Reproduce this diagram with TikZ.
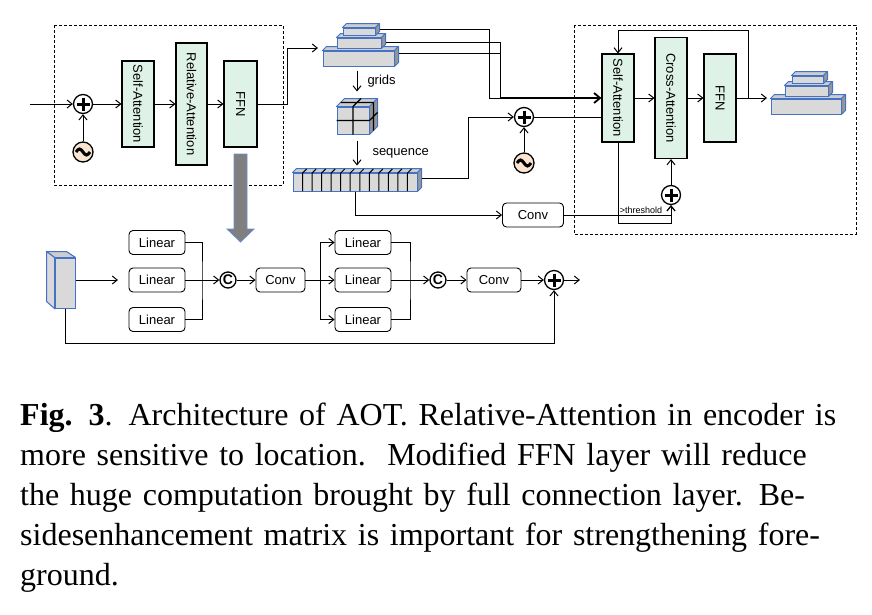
\documentclass[tikz,border=0pt]{standalone}
\usepackage{fontspec}
\usepackage{graphicx}
\setmainfont{Liberation Serif}
\setsansfont{Liberation Sans}
\usetikzlibrary{arrows.meta,calc}

\definecolor{mint}{RGB}{222,242,232}
\definecolor{peach}{RGB}{251,229,208}
\definecolor{barblue}{RGB}{68,114,196}
\definecolor{barfront}{RGB}{217,217,217}
\definecolor{bartopc}{RGB}{205,205,205}
\definecolor{barsidec}{RGB}{150,150,150}
\definecolor{arrowgray}{RGB}{127,127,127}

\tikzset{
  arr/.style={-{Straight Barb[length=5pt,width=8pt]}, line width=1pt},
  thickarr/.style={-{Straight Barb[length=6pt,width=10pt]}, line width=1.8pt},
  dbox/.style={line width=0.9pt, dash pattern=on 3pt off 2pt},
  attn/.style={draw, fill=mint, line width=1.1pt, inner sep=0pt, font=\sffamily\fontsize{13}{15}\selectfont},
  rbox/.style={draw, rounded corners=4pt, line width=0.9pt, minimum height=24pt, inner sep=0pt, font=\sffamily\fontsize{13}{15}\selectfont},
  lbl/.style={inner sep=0pt, font=\sffamily\fontsize{13}{15}\selectfont},
  thr/.style={inner sep=1pt, font=\sffamily\fontsize{9}{10}\selectfont},
  bar/.style={draw=barblue, fill=barfront, line width=1pt, inner sep=0pt},
  bartop/.style={draw=barblue, fill=bartopc, line width=1pt, line join=round},
  barside/.style={draw=barblue, fill=barsidec, line width=1pt, line join=round},
  plusop/.style={circle, draw, line width=1.3pt, minimum size=19pt, inner sep=0pt,
    path picture={\draw[line width=3pt]
      ($(path picture bounding box.center)+(-6.5,0)$) -- ($(path picture bounding box.center)+(6.5,0)$)
      ($(path picture bounding box.center)+(0,-6.5)$) -- ($(path picture bounding box.center)+(0,6.5)$);}},
  sinop/.style={circle, draw, fill=peach, line width=1.3pt, minimum size=20pt, inner sep=0pt,
    path picture={\draw[line width=3pt]
      ($(path picture bounding box.center)+(-7,0)$) sin ++(3.5,-3) cos ++(3.5,3) sin ++(3.5,3) cos ++(3.5,-3);}},
  catop/.style={circle, draw, line width=1.3pt, minimum size=16pt, inner sep=0pt, font=\sffamily\bfseries\fontsize{14}{14}\selectfont}
}

% top and right faces of a grey block
\newcommand{\barfaces}[3]{%
  \filldraw[bartop] (#1.north west) -- ++(#2,-#3) -- ($(#1.north east)+(#2,-#3)$) -- (#1.north east) -- cycle;
  \filldraw[barside] (#1.north east) -- ++(#2,-#3) -- ($(#1.south east)+(#2,-#3)$) -- (#1.south east) -- cycle;
}

\begin{document}
\begin{tikzpicture}[x=1pt,y=-1pt]
        \useasboundingbox (0,0) rectangle (872,614);

        % encoder
        \draw[dbox] (54,25) rectangle (283,185);
        \coordinate (in1) at (30,104);
        \node[plusop] at (83,104)  (plus1) {};
        \node[sinop]  at (83,152)  (sin1) {};
        \node[attn, minimum width=32pt, minimum height=86pt]  at (138,104)   (sa1)  {\rotatebox{-90}{Self-Attention}};
        \node[attn, minimum width=31pt, minimum height=122pt] at (191.5,104) (ra1)  {\rotatebox{-90}{Relative-Attention}};
        \node[attn, minimum width=33pt, minimum height=86pt]  at (240.5,104) (ffn1) {\rotatebox{-90}{FFN}};

        % big grey arrow
        \filldraw[fill=arrowgray, draw=barblue!80, line width=0.8pt]
          (234,154) -- (247,154) -- (247,229) -- (254,229) -- (240.5,242) -- (227,229) -- (234,229) -- cycle;

        % feature pyramid
        \node[bar, minimum width=71pt, minimum height=15pt] at (358.5,58.5) (pb1) {};
        \barfaces{pb1}{4}{4}
        \node[bar, minimum width=44pt, minimum height=10pt] at (359,43) (pm1) {};
        \barfaces{pm1}{4}{4}
        \node[bar, minimum width=32pt, minimum height=7pt] at (359,31.5) (pt1) {};
        \barfaces{pt1}{4}{4}
        \coordinate (p1in) at (318,48);

        % grid cube
        \node[bar, minimum width=32pt, minimum height=27pt] at (353,120.5) (cube) {};
        \barfaces{cube}{8}{8}
        \draw[line width=1.3pt] (cube.north) -- (cube.south) (cube.west) -- (cube.east)
          (cube.north) -- ++(8,-8) (cube.east) -- ++(8,-8)
          ($(cube.north west)+(4,-4)$) -- ($(cube.north east)+(4,-4)$)
          ($(cube.north east)+(4,-4)$) -- ($(cube.south east)+(4,-4)$);

        % sequence
        \node[bar, minimum width=124pt, minimum height=18pt] at (355,182) (seq) {};
        \barfaces{seq}{4}{4}
        \foreach \i in {1,...,12}
          \draw[line width=1pt] (293+9.54*\i,191) -- (293+9.54*\i,173) -- ++(4,-4);

        % decoder
        \draw[dbox] (574,25) rectangle (856,234);
        \node[attn, minimum width=32pt, minimum height=88pt]  at (618,98) (sa2)  {\rotatebox{-90}{Self-Attention}};
        \node[attn, minimum width=32pt, minimum height=121pt] at (671,98) (ca2)  {\rotatebox{-90}{Cross-Attention}};
        \node[attn, minimum width=32pt, minimum height=88pt]  at (720,98) (ffn2) {\rotatebox{-90}{FFN}};
        \node[plusop] at (524,117) (plus2) {};
        \node[sinop]  at (524,163) (sin2) {};
        \node[plusop] at (671,195) (plus3) {};
        \node[rbox, minimum width=61pt] at (533,215) (conv1) {Conv};
        \coordinate (j1) at (489,98);
        \coordinate (j2) at (500,98);
        \coordinate (fb) at (748,98);
        \coordinate (out2) at (767,98);

        % output pyramid
        \node[bar, minimum width=70pt, minimum height=15pt] at (806,106.5) (pb2) {};
        \barfaces{pb2}{4}{4}
        \node[bar, minimum width=43pt, minimum height=10pt] at (806.5,91) (pm2) {};
        \barfaces{pm2}{4}{4}
        \node[bar, minimum width=31pt, minimum height=7pt] at (807.5,79.5) (pt2) {};
        \barfaces{pt2}{4}{4}

        % modified FFN
        \node[bar, minimum width=20pt, minimum height=50pt] at (65,283) (mem) {};
        \filldraw[bartop] (mem.north west) -- ++(-8,-6) -- ++(20,0) -- (mem.north east) -- cycle;
        \filldraw[bar] (mem.north west) -- ++(-8,-6) -- ++(0,50) -- (mem.south west) -- cycle;
        \coordinate (lin) at (118,280);
        \node[rbox, minimum width=56pt] at (157,242.5) (l1a) {Linear};
        \node[rbox, minimum width=56pt] at (157,280)   (l1b) {Linear};
        \node[rbox, minimum width=56pt] at (157,319.5) (l1c) {Linear};
        \coordinate (m1) at (202,280);
        \node[catop] at (228,280) (cat1) {C};
        \node[rbox, minimum width=49pt] at (280.5,280) (conv2) {Conv};
        \coordinate (s1) at (320,280);
        \node[rbox, minimum width=56pt] at (363,242.5) (l2a) {Linear};
        \node[rbox, minimum width=56pt] at (363,280)   (l2b) {Linear};
        \node[rbox, minimum width=56pt] at (363,319.5) (l2c) {Linear};
        \coordinate (m2) at (410,280);
        \node[catop] at (438,280) (cat2) {C};
        \node[rbox, minimum width=54pt] at (494,280) (conv3) {Conv};
        \node[plusop] at (554,280) (plus4) {};
        \coordinate (out3) at (580,280);

        % draw edges
        \draw[arr] (in1) -- (plus1);
        \draw[arr] (sin1) -- (plus1);
        \draw[arr] (plus1) -- (sa1);
        \draw[arr] (sa1) -- (ra1);
        \draw[arr] (ra1) -- (ffn1);
        \draw[arr] (ffn1.east) -- ++(30,0) |- (p1in);

        \draw ($(pt1.east)+(4,-2)$) -| (j1);
        \draw ($(pm1.east)+(4,-1)$) -| (j2);
        \draw ($(pb1.east)+(4,-5.5)$) -| (j2);
        \draw (j1) -- (j2);
        \draw[thickarr] (j2) -- (sa2.west);

        \draw[arr] ($(pb1.south)+(-1.5,4)$) -- ($(cube.north)+(4,-15)$) node[midway, right=10pt, lbl] {grids};
        \draw[arr] ($(cube.south)+(4,6)$) -- ($(seq.north)+(2,-7)$) node[midway, right=15pt, lbl] {sequence};
        \draw[arr] ($(seq.east)+(4,-4)$) -- ++(47,0) |- (plus2);
        \draw[arr] (sin2) -- (plus2);
        \draw (plus2) -- (sa2.west |- plus2);
        \draw[arr] (seq.south) |- (conv1.west);
        \draw[arr] (conv1.east) -| (plus3) node[pos=0.36, above, thr] {>threshold};
        \draw[arr] (sa2.south) -- ++(0,81) -| (plus3);
        \draw[arr] (plus3) -- (ca2.south);
        \draw[arr] (sa2) -- (ca2);
        \draw[arr] (ca2) -- (ffn2);
        \draw (ffn2.east) -- (fb);
        \draw[arr] (fb) -- (out2);
        \draw[arr] (fb) -- ++(0,-68) -| (sa2.north);

        \draw[arr] (mem.east |- lin) -- (lin);
        \draw (l1a.east) -| (m1) |- (l1c.east);
        \draw[arr] (l1b) -- (cat1);
        \draw[arr] (cat1) -- (conv2);
        \draw (conv2) -- (s1);
        \draw[arr] (s1) |- (l2a.west);
        \draw[arr] (s1) -- (l2b);
        \draw[arr] (s1) |- (l2c.west);
        \draw (l2a.east) -| (m2) |- (l2c.east);
        \draw[arr] (l2b) -- (cat2);
        \draw[arr] (cat2) -- (conv3);
        \draw[arr] (conv3) -- (plus4);
        \draw[arr] (plus4) -- (out3);
        \draw[arr] (mem.south) -- ++(0,35) -| (plus4);

        % caption
        \node[anchor=base west, inner sep=0pt, text width=811pt, font=\fontsize{32}{40}\selectfont] at (20,425) (cap) {%
          \makebox[\linewidth][s]{\mbox{\textbf{Fig. 3}}. Architecture of AOT. Relative-Attention in encoder is}\\
          \makebox[\linewidth][s]{more sensitive to location.\ \ Modified FFN layer will reduce}\\
          \makebox[\linewidth][s]{the huge computation brought by full connection layer. Be-}\\
          \makebox[\linewidth][s]{sidesenhancement matrix is important for strengthening fore-}\\
          ground.};
\end{tikzpicture}
\end{document}
